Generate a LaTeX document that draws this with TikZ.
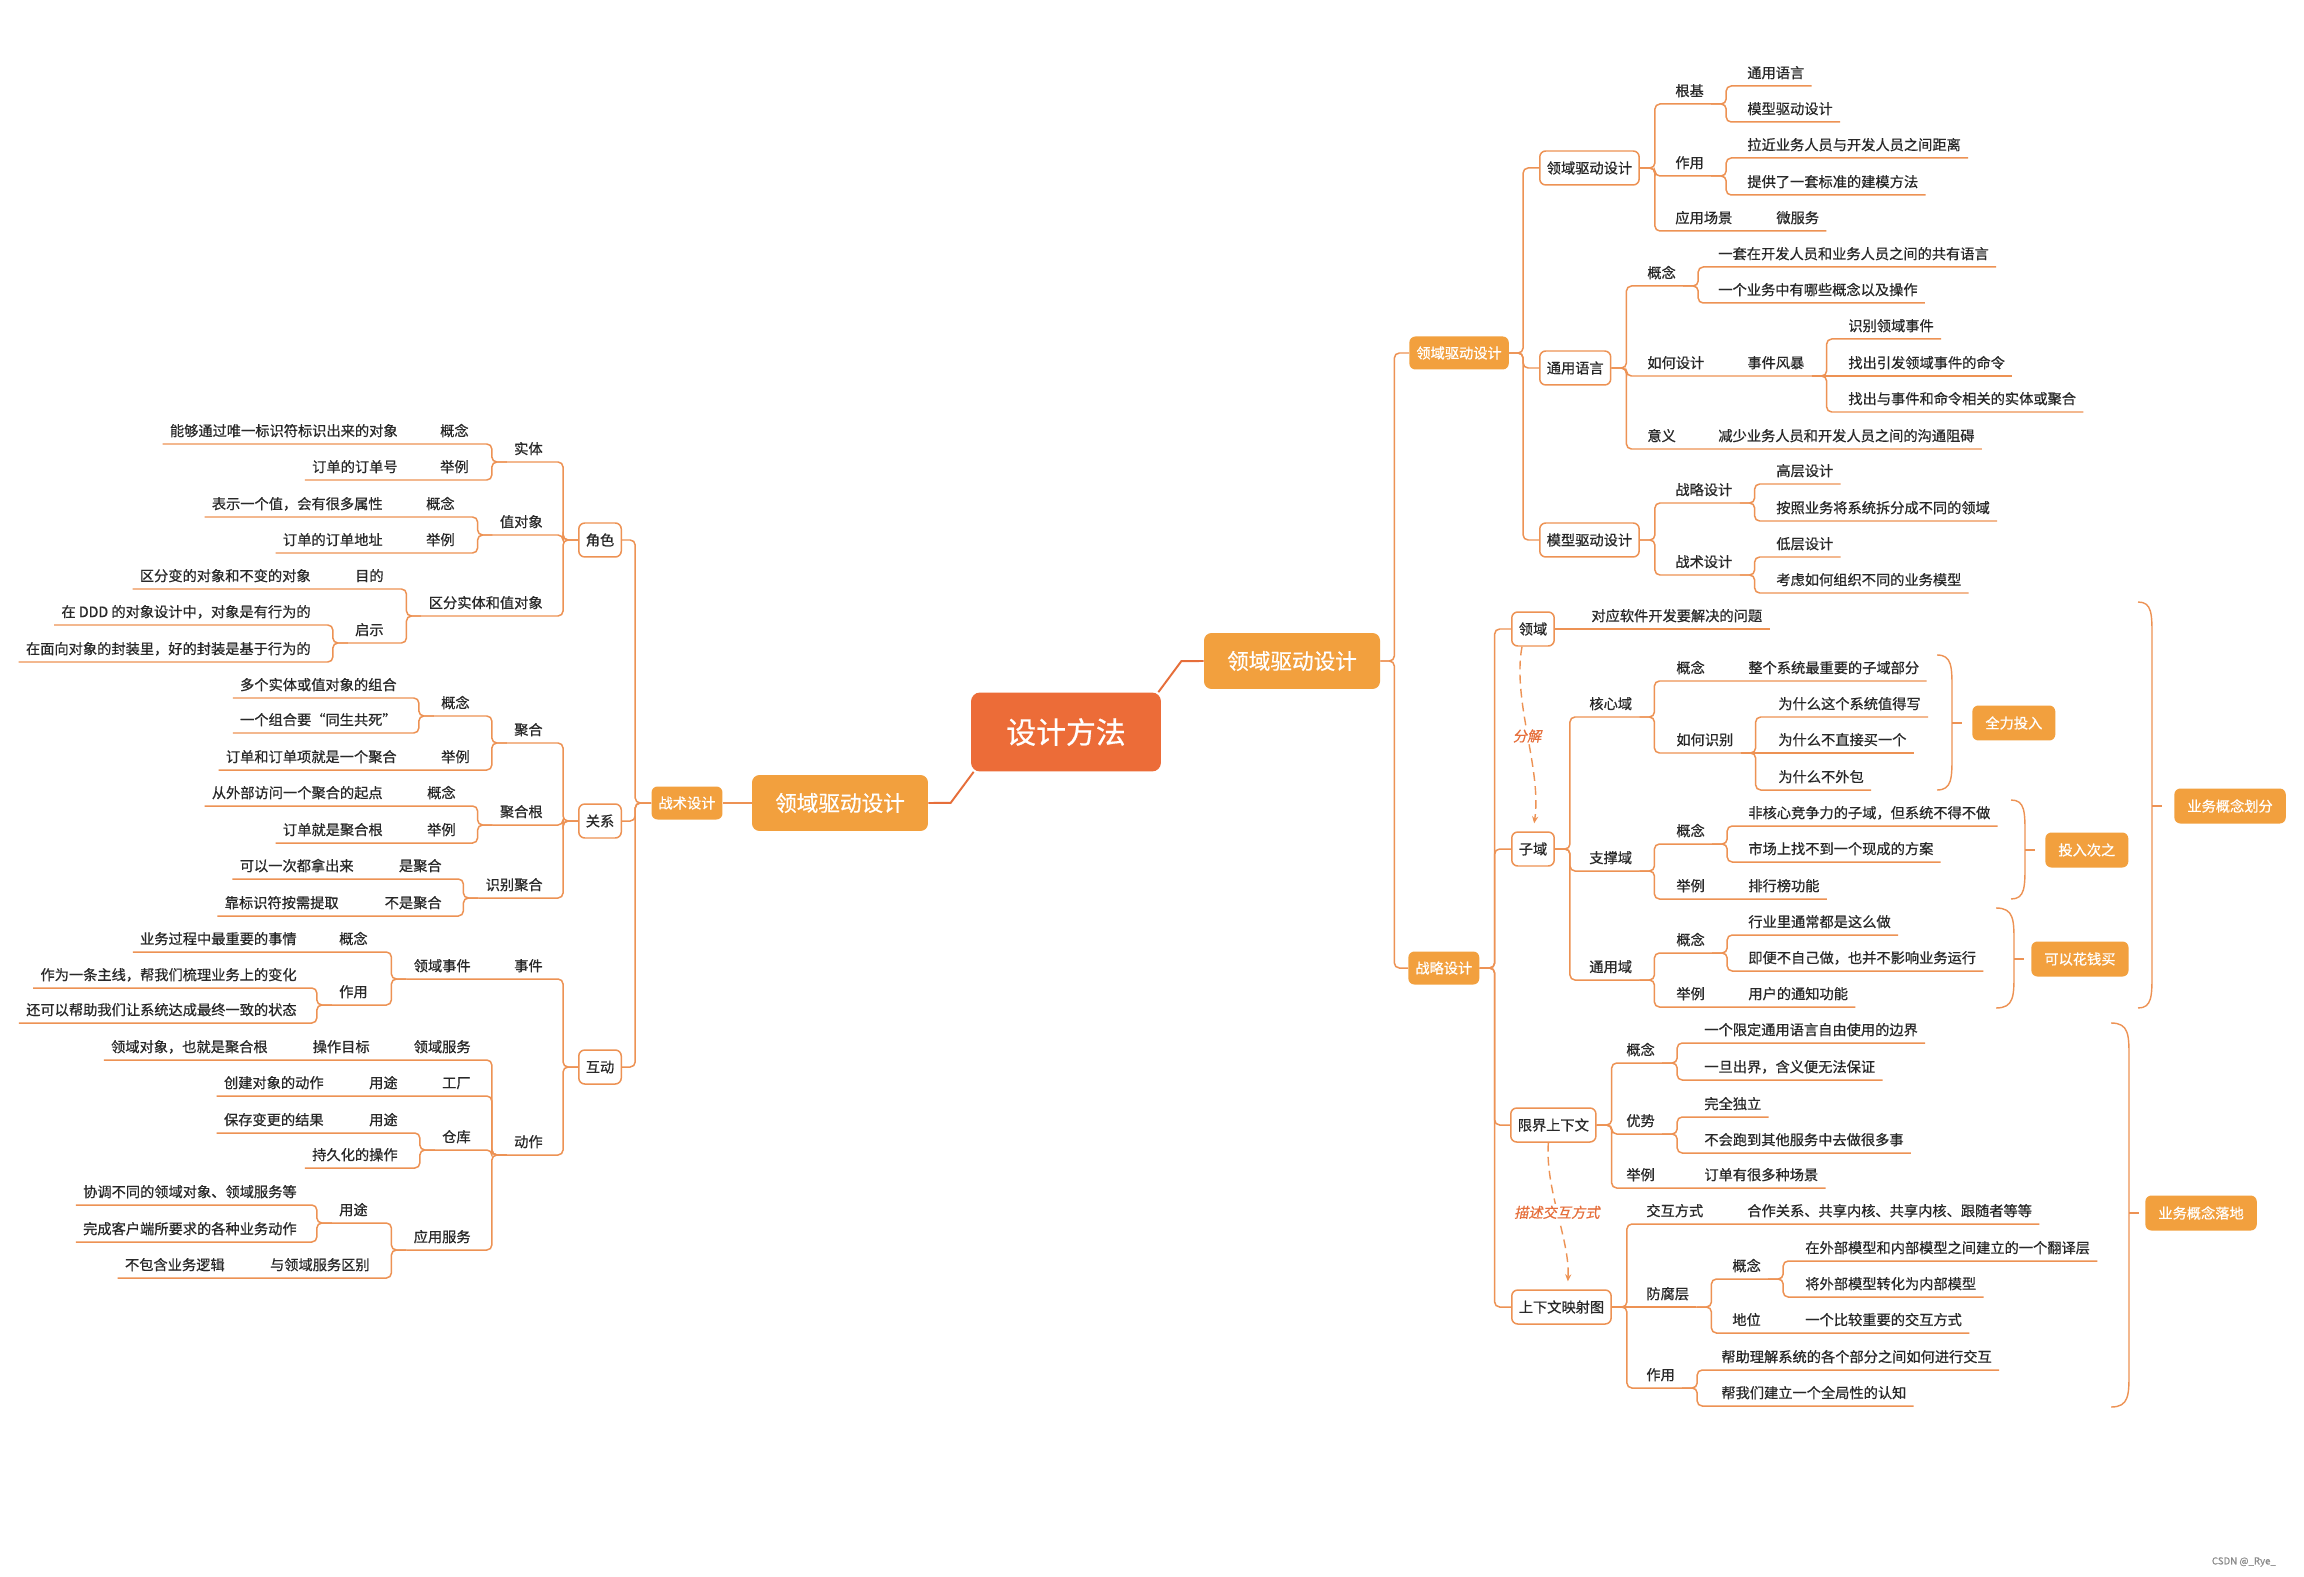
\documentclass[tikz,border=0pt]{standalone}
\usepackage{fontspec}
\setmainfont{Noto Sans CJK SC}[RawFeature={embolden=0.6}]
\newfontfamily\slantfont[FakeSlant=0.2,RawFeature={embolden=0.6}]{Noto Sans CJK SC}
\usetikzlibrary{arrows.meta}
\definecolor{linec}{RGB}{237,146,84}
\definecolor{boxc}{RGB}{242,160,62}
\definecolor{rootc}{RGB}{236,108,56}
\definecolor{mainc}{RGB}{230,110,58}
\definecolor{txtc}{RGB}{40,40,40}
\begin{document}
\begin{tikzpicture}[x=0.02cm, y=-0.02cm,
    txt/.style={font=\fontsize{8.1}{9}\selectfont, text=txtc, inner xsep=0.14cm, inner ysep=0pt, text height=7pt, text depth=4.3pt},
    rt/.style={txt, anchor=south west},
    lt/.style={txt, anchor=south east},
    link/.style={draw=linec, line width=0.85pt, rounded corners=0.1cm},
    wbox/.style={draw=linec, line width=0.85pt, fill=white, rounded corners=0.12cm, text=txtc, font=\fontsize{8.1}{9}\selectfont, inner xsep=0.14cm, inner ysep=0pt, minimum height=0.68cm},
    obox/.style={fill=boxc, rounded corners=0.12cm, text=white, font=\fontsize{8.1}{9}\selectfont, inner xsep=0.14cm, inner ysep=0pt, minimum height=0.66cm},
    sumbox/.style={obox, inner xsep=0.26cm, minimum height=0.7cm},
    bigbox/.style={fill=boxc, rounded corners=0.15cm, text=white, font=\fontsize{12.3}{14}\selectfont, minimum width=3.52cm, minimum height=1.12cm},
    rootbox/.style={fill=rootc, rounded corners=0.18cm, text=white, font=\fontsize{17}{20}\selectfont, minimum width=3.8cm, minimum height=1.58cm},
    mainlink/.style={draw=mainc, line width=1.1pt},
    brace/.style={draw=linec, line width=0.8pt},
    dasharrow/.style={draw=linec, line width=0.8pt, dash pattern=on 5pt off 3pt, -{Stealth[length=4pt,width=3.5pt]}, shorten >=0.16cm},
    tag/.style={font=\slantfont\fontsize{8.1}{9}\selectfont, text=mainc, fill=white, inner sep=1pt}]
    % Fond et cadre
    \fill[white] (0,0) rectangle (2304,1577);
    \useasboundingbox (0,0) rectangle (2304,1577);
    % Noeud central
    \node[rootbox] (root) at (1066,732) {设计方法};
    \node[bigbox] (ddl) at (840,803) {领域驱动设计};
    \node[bigbox] (ddr) at (1292,661) {领域驱动设计};
    \draw[mainlink] ([xshift=0.06cm]root.south west) -- ++(-23,31) -- (ddl.east);
    \draw[mainlink] ([xshift=-0.06cm]root.north east) -- ++(23,-31) -- (ddr.west);
    % ---------- Branche gauche : conception tactique ----------
    \node[obox] (tac) at (687,803) {战术设计};
    \draw[link] (ddl.west) -- (tac.east);
    \node[wbox, anchor=east] (role) at (622,540) {角色};
    \node[wbox, anchor=east] (rel) at (622,821) {关系};
    \node[wbox, anchor=east] (inter) at (622,1067) {互动};
    \foreach \bx in {role,rel,inter}
        \draw[link] (tac.west) -- ++(-16,0) |- (\bx.east);
    % Evenement (chaine sur une ligne)
    \node[lt] (evt) at (550,979) {事件};
    \node[lt] (evtd) at (478,979) {领域事件};
    \draw[link] (inter.west) -- ++(-15,0) |- (evt.south west) -- (evtd.south west);
    % Noeuds simples
    \foreach \pa/\nm/\xx/\yy/\la in {
        role.west/ent/550/462/实体,
        role.west/val/550/535/值对象,
        role.west/diff/550/616/区分实体和值对象,
        diff.south west/diffi/391/643/启示,
        diffi.south west/diffia/318/625/在 DDD 的对象设计中，对象是有行为的,
        diffi.south west/diffib/318/662/在面向对象的封装里，好的封装是基于行为的,
        rel.west/agg/550/743/聚合,
        rel.west/aggr/550/825/聚合根,
        rel.west/idag/550/898/识别聚合,
        agg.south west/aggc/477/716/概念,
        aggc.south west/aggca/404/698/多个实体或值对象的组合,
        aggc.south west/aggcb/404/733/一个组合要“同生共死”,
        inter.west/act/550/1155/动作,
        evtd.south west/evtu/375/1005/作用,
        evtu.south west/evtua/304/988/作为一条主线，帮我们梳理业务上的变化,
        evtu.south west/evtub/304/1023/还可以帮助我们让系统达成最终一致的状态,
        act.south west/repo/478/1150/仓库,
        repo.south west/repop/405/1168/持久化的操作,
        act.south west/app/478/1250/应用服务,
        app.south west/appu/375/1223/用途,
        appu.south west/appua/304/1205/协调不同的领域对象、领域服务等,
        appu.south west/appub/304/1242/完成客户端所要求的各种业务动作} {
        \node[lt] (\nm) at (\xx,\yy) {\la};
        \draw[link] (\pa) -- ++(-15,0) |- (\nm.south west);
    }
    % Etiquette + feuille sur la meme ligne
    \foreach \pa/\nm/\xx/\yy/\la/\lx/\lf in {
        ent.south west/entc/476/444/概念/405/能够通过唯一标识符标识出来的对象,
        ent.south west/ente/476/480/举例/405/订单的订单号,
        val.south west/valc/462/517/概念/390/表示一个值，会有很多属性,
        val.south west/vale/462/553/举例/390/订单的订单地址,
        diff.south west/diffp/391/589/目的/318/区分变的对象和不变的对象,
        agg.south west/agge/477/770/举例/404/订单和订单项就是一个聚合,
        aggr.south west/aggrc/463/806/概念/390/从外部访问一个聚合的起点,
        aggr.south west/aggre/463/843/举例/390/订单就是聚合根,
        idag.south west/idagy/449/879/是聚合/361/可以一次都拿出来,
        idag.south west/idagn/449/916/不是聚合/346/靠标识符按需提取,
        evtd.south west/evtc/375/952/概念/304/业务过程中最重要的事情,
        repo.south west/repou/405/1133/用途/331/保存变更的结果,
        app.south west/appd/377/1278/与领域服务区别/232/不包含业务逻辑} {
        \node[lt] (\nm) at (\xx,\yy) {\la};
        \node[lt] (\nm-l) at (\lx,\yy) {\lf};
        \draw[link] (\pa) -- ++(-15,0) |- (\nm.south west) -- (\nm-l.south west);
    }
    % Service du domaine, fabrique
    \node[lt] (dsv) at (478,1060) {领域服务};
    \node[lt] (dsvo) at (377,1060) {操作目标};
    \node[lt] (dsvl) at (275,1060) {领域对象，也就是聚合根};
    \draw[link] (act.south west) -- ++(-15,0) |- (dsv.south west) -- (dsvo.south west) -- (dsvl.south west);
    \node[lt] (fac) at (478,1096) {工厂};
    \node[lt] (facu) at (405,1096) {用途};
    \node[lt] (facl) at (331,1096) {创建对象的动作};
    \draw[link] (act.south west) -- ++(-15,0) |- (fac.south west) -- (facu.south west) -- (facl.south west);
    % ---------- Branche droite ----------
    \node[obox, anchor=west] (ddm) at (1409,353) {领域驱动设计};
    \node[obox, anchor=west] (stg) at (1408,968) {战略设计};
    \foreach \bx in {ddm,stg}
        \draw[link] (ddr.east) -- ++(14,0) |- (\bx.west);
    \node[wbox, anchor=west] (ddw) at (1539,168) {领域驱动设计};
    \node[wbox, anchor=west] (ul) at (1539,368) {通用语言};
    \node[wbox, anchor=west] (mdd) at (1539,540) {模型驱动设计};
    \foreach \bx in {ddw,ul,mdd}
        \draw[link] (ddm.east) -- ++(14,0) |- (\bx.west);
    \node[wbox, anchor=west] (dom) at (1511,629) {领域};
    \node[wbox, anchor=west] (sub) at (1511,849) {子域};
    \node[wbox, anchor=west] (bc) at (1510,1125) {限界上下文};
    \node[wbox, anchor=west] (cm) at (1511,1307) {上下文映射图};
    \foreach \bx in {dom,sub,bc,cm}
        \draw[link] (stg.east) -- ++(15,0) |- (\bx.west);
    % Chaines droites
    \node[rt] (domq) at (1584,629) {对应软件开发要解决的问题};
    \draw[link] (dom.east) -- (domq.south east);
    \node[rt] (uld) at (1640,376) {如何设计};
    \node[rt] (uls) at (1740,376) {事件风暴};
    \draw[link] (ul.east) -- ++(15,0) |- (uld.south east) -- (uls.south east);
    \node[rt] (uls2) at (1841,376) {找出引发领域事件的命令};
    \draw[link] (uls.south east) -- (uls2.south east);
    \node[rt] (cma) at (1639,1307) {防腐层};
    \draw[link] (cm.east) -- (cma.south east);
    % Noeuds simples
    \foreach \pa/\nm/\xx/\yy/\la in {
        ddw.east/gj/1668/104/根基,
        gj.south east/gj1/1740/86/通用语言,
        gj.south east/gj2/1740/122/模型驱动设计,
        ddw.east/zy/1668/176/作用,
        zy.south east/zy1/1740/158/拉近业务人员与开发人员之间距离,
        zy.south east/zy2/1740/195/提供了一套标准的建模方法,
        ul.east/ulc/1640/286/概念,
        ulc.south east/ulc1/1711/267/一套在开发人员和业务人员之间的共有语言,
        ulc.south east/ulc2/1711/303/一个业务中有哪些概念以及操作,
        uls.south east/uls1/1841/339/识别领域事件,
        uls.south east/uls3/1841/412/找出与事件和命令相关的实体或聚合,
        mdd.east/mds/1668/503/战略设计,
        mds.south east/mds1/1769/484/高层设计,
        mds.south east/mds2/1769/521/按照业务将系统拆分成不同的领域,
        mdd.east/mdt/1668/575/战术设计,
        mdt.south east/mdt1/1769/557/低层设计,
        mdt.south east/mdt2/1769/593/考虑如何组织不同的业务模型,
        sub.east/core/1582/717/核心域,
        core.south east/corei/1669/753/如何识别,
        corei.south east/corei1/1771/717/为什么这个系统值得写,
        corei.south east/corei3/1771/790/为什么不外包,
        sub.east/supp/1582/871/支撑域,
        supp.south east/suppc/1669/844/概念,
        suppc.south east/suppc1/1741/826/非核心竞争力的子域，但系统不得不做,
        suppc.south east/suppc2/1741/862/市场上找不到一个现成的方案,
        sub.east/gen/1582/980/通用域,
        gen.south east/genc/1669/953/概念,
        genc.south east/genc1/1741/935/行业里通常都是这么做,
        genc.south east/genc2/1741/971/即便不自己做，也并不影响业务运行,
        bc.east/bcc/1619/1063/概念,
        bcc.south east/bcc1/1697/1043/一个限定通用语言自由使用的边界,
        bcc.south east/bcc2/1697/1080/一旦出界，含义便无法保证,
        bc.east/bca/1619/1134/优势,
        bca.south east/bca1/1697/1117/完全独立,
        bca.south east/bca2/1697/1153/不会跑到其他服务中去做很多事,
        cma.south east/cmac/1725/1279/概念,
        cmac.south east/cmac1/1798/1261/在外部模型和内部模型之间建立的一个翻译层,
        cmac.south east/cmac2/1798/1297/将外部模型转化为内部模型,
        cm.east/cmu/1639/1388/作用,
        cmu.south east/cmu1/1714/1370/帮助理解系统的各个部分之间如何进行交互,
        cmu.south east/cmu2/1714/1406/帮我们建立一个全局性的认知} {
        \node[rt] (\nm) at (\xx,\yy) {\la};
        \draw[link] (\pa) -- ++(15,0) |- (\nm.south east);
    }
    \node[rt] (corei2) at (1771,753) {为什么不直接买一个};
    \draw[link] (corei.south east) -- (corei2.south east);
    % Etiquette + feuille sur la meme ligne
    \foreach \pa/\nm/\xx/\yy/\la/\lx/\lf in {
        ddw.east/cj/1668/231/应用场景/1769/微服务,
        ul.east/ulm/1640/449/意义/1711/减少业务人员和开发人员之间的沟通阻碍,
        core.south east/corec/1669/681/概念/1741/整个系统最重要的子域部分,
        supp.south east/suppe/1669/899/举例/1741/排行榜功能,
        gen.south east/gene/1669/1007/举例/1741/用户的通知功能,
        bc.east/bce/1619/1188/举例/1697/订单有很多种场景,
        cm.east/cmi/1639/1224/交互方式/1740/合作关系、共享内核、共享内核、跟随者等等,
        cma.south east/cmap/1725/1333/地位/1798/一个比较重要的交互方式} {
        \node[rt] (\nm) at (\xx,\yy) {\la};
        \node[rt] (\nm-l) at (\lx,\yy) {\lf};
        \draw[link] (\pa) -- ++(15,0) |- (\nm.south east) -- (\nm-l.south east);
    }
    % Accolades de synthese
    \foreach \k/\xx/\ww/\ta/\tb/\mm in {1/1937/15/655/790/723, 2/2011/14/800/899/850,
        3/1996/18/908/1008/959, 4/2138/14/602/1008/806, 5/2111/18/1023/1407/1213} {
        \draw[brace] (\xx,\ta) .. controls (\xx+\ww,\ta) and (\xx+\ww,\ta+12) .. (\xx+\ww,\ta+35)
            -- (\xx+\ww,\tb-35) .. controls (\xx+\ww,\tb-12) and (\xx+\ww,\tb) .. (\xx,\tb);
        \coordinate (br\k) at (\xx+\ww,\mm);
        \draw[brace] (br\k) -- ++(10,0);
    }
    \node[sumbox, anchor=west] (s1) at (1972,723) {全力投入};
    \node[sumbox, anchor=west] (s2) at (2045,850) {投入次之};
    \node[sumbox, anchor=west] (s3) at (2031,959) {可以花钱买};
    \node[sumbox, anchor=west] (s4) at (2174,806) {业务概念划分};
    \node[sumbox, anchor=west] (s5) at (2145,1213) {业务概念落地};
    % Relations en pointilles
    \draw[dasharrow] ([xshift=-0.22cm]dom.south) .. controls (1512,700) and (1542,770) .. (sub.north)
        node[tag, pos=0.5] (cut) {分解};
    \draw[dasharrow] ([xshift=-0.1cm]bc.south) .. controls (1545,1190) and (1570,1240) .. ([xshift=0.12cm]cm.north)
        node[tag, pos=0.48] (desc) {描述交互方式};
    % Filigrane
    \node[font=\fontsize{5.5}{6}\selectfont, text=black!45, anchor=east] (mark) at (2282,1562) {CSDN @\_Rye\_};
\end{tikzpicture}
\end{document}
